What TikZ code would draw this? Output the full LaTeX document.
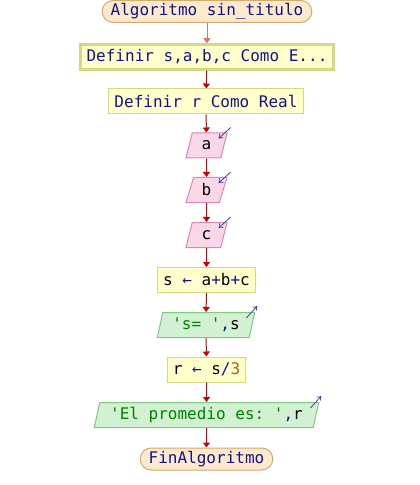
\documentclass[tikz,border=0pt]{standalone}
\usepackage{fontspec}
\setmonofont{DejaVu Sans Mono}
\usetikzlibrary{shapes.geometric,arrows.meta}

\definecolor{termfill}{RGB}{253,233,204}
\definecolor{termdraw}{RGB}{210,170,110}
\definecolor{deffill}{RGB}{255,255,204}
\definecolor{defdraw}{RGB}{215,215,130}
\definecolor{infill}{RGB}{250,215,232}
\definecolor{indraw}{RGB}{210,140,180}
\definecolor{outfill}{RGB}{210,240,210}
\definecolor{outdraw}{RGB}{130,200,130}
\definecolor{kwnavy}{RGB}{20,20,130}
\definecolor{strgreen}{RGB}{0,130,0}
\definecolor{numbrown}{RGB}{165,100,40}
\definecolor{flowred}{RGB}{200,0,0}

\newcommand{\op}[1]{\textcolor{kwnavy}{#1}}
\newcommand{\str}[1]{\textcolor{strgreen}{#1}}

\begin{document}
\begin{tikzpicture}[x=1bp,y=-1bp,
  every node/.style={font=\ttfamily\fontsize{16bp}{19bp}\selectfont},
  terminal/.style={draw=termdraw,fill=termfill,line width=1bp,rounded corners=11bp,
    minimum height=22bp,inner xsep=8.5bp,inner ysep=0pt,text=kwnavy},
  define/.style={draw=defdraw,fill=deffill,line width=1bp,
    minimum height=25bp,inner xsep=6bp,inner ysep=0pt,text=kwnavy},
  assign/.style={draw=defdraw,fill=deffill,line width=1bp,
    minimum height=25bp,inner xsep=5.5bp,inner ysep=0pt},
  iobox/.style={trapezium,trapezium left angle=72,trapezium right angle=108,
    trapezium stretches=true,line width=1bp,minimum height=25bp,inner xsep=2bp,inner ysep=0pt},
  readbox/.style={iobox,draw=indraw,fill=infill},
  writebox/.style={iobox,draw=outdraw,fill=outfill},
  flow/.style={draw=flowred,line width=1bp,-{Triangle[length=5bp,width=7bp]}},
  iomark/.style={draw=kwnavy!80!white,line width=0.8bp,-{To[length=4bp,width=6bp]}}]

\useasboundingbox (0,0) rectangle (419,485);

% Blocks of the algorithm
\node[terminal] (start) at (207,11.5) {Algoritmo sin\_titulo};
\node[define,line width=2.5bp] (def1) at (207,57) {Definir s,a,b,c Como E...};
\node[define] (def2) at (206,101.5) {Definir r Como Real};
\node[readbox,minimum width=41bp] (ra) at (206.5,145.5) {a};
\node[readbox,minimum width=41bp] (rb) at (206.5,190) {b};
\node[readbox,minimum width=41bp] (rc) at (206.5,235) {c};
\node[assign] (sum) at (206.5,280) {s \op{←} a\op{+}b\op{+}c};
\node[writebox,minimum width=98bp] (ws) at (206,325) {\str{'s= '}\op{,}s};
\node[assign] (avg) at (206.5,369.5) {r \op{←} s\op{/}\textcolor{numbrown}{3}};
\node[writebox,minimum width=225bp] (wr) at (206.5,415) {\str{'El promedio es: '}\op{,}r};
\node[terminal] (fin) at (206.5,459) {FinAlgoritmo};

% Connectors
\draw[flow,draw=flowred!55!white] (start) -- (def1);
\draw[flow] (def1) -- (def2);
\draw[flow] (def2) -- (ra);
\draw[flow] (ra) -- (rb);
\draw[flow] (rb) -- (rc);
\draw[flow] (rc) -- (sum);
\draw[flow] (sum) -- (ws);
\draw[flow] (ws) -- (avg);
\draw[flow] (avg) -- (wr);
\draw[flow] (wr) -- (fin);

% Small input / output marks
\foreach \n in {ra,rb,rc}
  \draw[iomark] ([shift={(3,-5)}]\n.top right corner) -- ([shift={(-9,6)}]\n.top right corner);
\foreach \n in {ws,wr}
  \draw[iomark] ([shift={(-9,6)}]\n.top right corner) -- ([shift={(2,-6)}]\n.top right corner);

\end{tikzpicture}
\end{document}
